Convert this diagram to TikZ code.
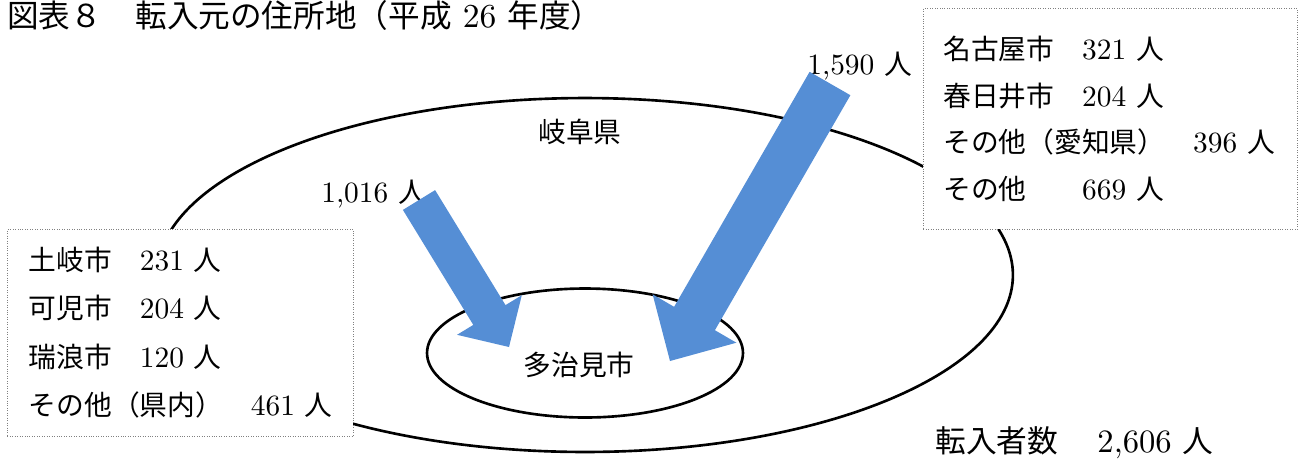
\documentclass[tikz,border=0pt]{standalone}
\usepackage{fontspec}
\setmainfont{lmroman10-regular.otf}[Scale=1.06]
\newfontfamily\jp{Noto Sans CJK JP}
\usepackage{tikz}
\usetikzlibrary{shapes.geometric}
\definecolor{flowblue}{RGB}{85,142,213}

\begin{document}
\begin{tikzpicture}[x=0.02cm,y=-0.02cm,
                    every node/.style={font=\fontsize{15.8}{27}\selectfont},
                    region/.style={ellipse,draw,line width=1.5pt,inner sep=0pt},
                    list box/.style={rectangle,draw=gray,densely dotted,thin,fill=white,
                                     align=left,anchor=north west},
                    count/.style={inner sep=0pt,anchor=west},
                    big/.style={font=\fontsize{17.5}{20}\selectfont},
                    flow/.style={fill=flowblue}]
  \useasboundingbox (0,0) rectangle (1301,461);

  \node[count,font=\fontsize{18}{20}\selectfont] (title) at (7,15)
    {{\jp 図表８\hspace{1.05em}転入元の住所地（平成} 26 {\jp 年度）}};

  \node[region,minimum width=17.12cm,minimum height=7.08cm] (gifu) at (585,275) {};
  \node[region,minimum width=6.32cm,minimum height=2.58cm] (tajimi) at (585,353) {};
  \node (gifu label) at (580,132) {\jp 岐阜県};
  \node (tajimi label) at (579,365) {\jp 多治見市};

  \node[list box,minimum width=6.92cm,minimum height=4.14cm,text width=6.06cm,
        inner xsep=0.43cm,font=\fontsize{15.8}{27.6}\selectfont] (inside) at (7,229)
    {{\jp 土岐市　}231~{\jp 人}\\
     {\jp 可児市　}204~{\jp 人}\\
     {\jp 瑞浪市　}120~{\jp 人}\\
     \mbox{{\jp その他（県内）　}461~{\jp 人}}};
  \node[list box,minimum width=7.48cm,minimum height=4.42cm,text width=6.68cm,
        inner xsep=0.4cm,font=\fontsize{15.8}{26.6}\selectfont] (aichi) at (923,8)
    {{\jp 名古屋市　}321~{\jp 人}\\
     {\jp 春日井市　}204~{\jp 人}\\
     \mbox{{\jp その他（愛知県）　}396~{\jp 人}}\\
     {\jp その他　　}669~{\jp 人}};

  \node[count] (inside count) at (321,194) {1,016 {\jp 人}};
  \node[count] (outside count) at (807,66) {1,590 {\jp 人}};
  \node[count,big] (total) at (935,443) {{\jp 転入者数}\hspace{1.2em}2,606 {\jp 人}};

  \fill[flow] (435.1,190.1) -- (505.5,305.1) -- (521.8,295.2) -- (509,347)
    -- (457,334.8) -- (473.3,324.9) -- (402.9,209.9) -- cycle;
  \fill[flow] (850.4,95.2) -- (714.9,330.2) -- (736.4,342.7) -- (670,361)
    -- (652.6,294.3) -- (674.1,306.8) -- (809.6,71.8) -- cycle;
\end{tikzpicture}
\end{document}
